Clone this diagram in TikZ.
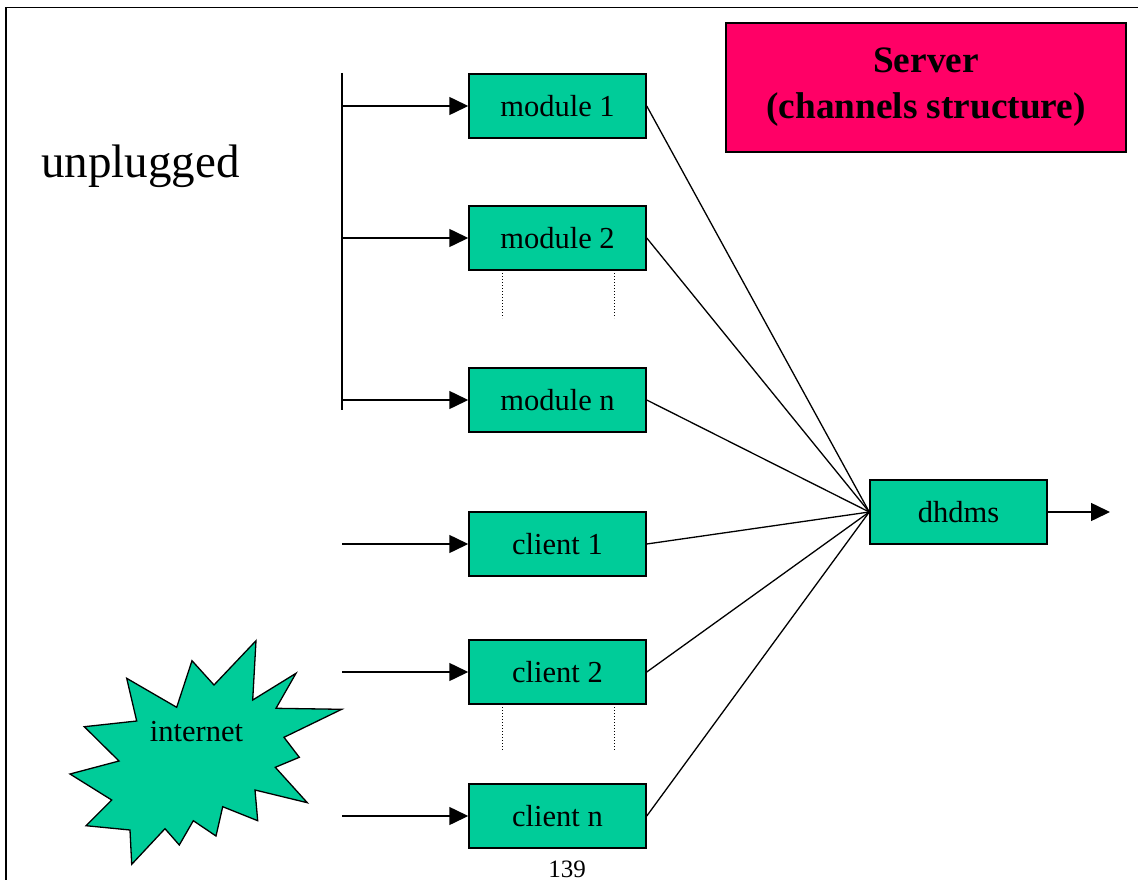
\documentclass[tikz,border=0pt]{standalone}
\usepackage{fontspec}
\setmainfont{Liberation Serif}
\usetikzlibrary{arrows.meta}
\definecolor{boxgreen}{RGB}{0,204,153}
\definecolor{servermag}{RGB}{255,0,102}
\begin{document}
\begin{tikzpicture}[x=1pt,y=-1pt,
  box/.style={draw, line width=1.5pt, fill=boxgreen, minimum width=177pt, minimum height=64pt, inner sep=0pt, font=\fontsize{30.5}{36}\selectfont},
  link/.style={line width=1.3pt},
  feed/.style={line width=1.5pt, -{Triangle[length=19pt,width=18pt]}},
  dots/.style={line width=1pt, dash pattern=on 1pt off 2pt},
]
\useasboundingbox (0,0) rectangle (1138,880);
% frame
\draw[line width=1.6pt] (6,880) -- (6,7.5) -- (1138,7.5);

% server title
\node[draw, line width=1.5pt, fill=servermag, minimum width=400pt, minimum height=129pt, inner sep=0pt, align=center, font=\bfseries\fontsize{37.3}{46}\selectfont] (srv) at (926,87.5) {Server\\(channels structure)};

\node[font=\fontsize{47}{56}\selectfont, anchor=base west, inner sep=0pt] (unp) at (41,177) {unplugged};

% boxes
\node[box] (m1) at (557.5,106) {module 1};
\node[box] (m2) at (557.5,238) {module 2};
\node[box] (mn) at (557.5,400) {module n};
\node[box] (c1) at (557.5,544) {client 1};
\node[box] (c2) at (557.5,672) {client 2};
\node[box] (cn) at (557.5,816) {client n};
\node[box] (d) at (958.5,512) {dhdms};

% bus
\coordinate (bt) at (342,73);
\coordinate (bb) at (342,410);
\draw[link] (bt) -- (bb);
\coordinate (a1) at (342,106);
\coordinate (a2) at (342,238);
\coordinate (an) at (342,400);
\coordinate (b1) at (342,544);
\coordinate (b2) at (342,672);
\coordinate (bn) at (342,816);
\draw[feed] (a1) -- (m1.west);
\draw[feed] (a2) -- (m2.west);
\draw[feed] (an) -- (mn.west);
\draw[feed] (b1) -- (c1.west);
\draw[feed] (b2) -- (c2.west);
\draw[feed] (bn) -- (cn.west);

% dotted continuation marks
\coordinate (p1) at (502,270); \coordinate (p1e) at (502,318);
\coordinate (p2) at (614,270); \coordinate (p2e) at (614,318);
\coordinate (q1) at (502,704); \coordinate (q1e) at (502,751);
\coordinate (q2) at (614,704); \coordinate (q2e) at (614,751);
\draw[dots] (p1) -- (p1e);
\draw[dots] (p2) -- (p2e);
\draw[dots] (q1) -- (q1e);
\draw[dots] (q2) -- (q2e);

% links to dhdms
\foreach \n in {m1,m2,mn,c1,c2,cn} \draw[link] (\n.east) -- (d.west);
\coordinate (out) at (1110,512);
\draw[feed] (d.east) -- (out);

% internet burst
\draw[line width=1.3pt, fill=boxgreen, line join=miter]
 (256,640.7) -- (252.7,700) -- (296,673.3) -- (276,708.3) -- (341.7,709.3) -- (284,737.3)
 -- (299.3,757.3) -- (275.3,767.3) -- (307.3,802.7) -- (255,790) -- (257.7,820.7)
 -- (222.7,806.7) -- (216,836) -- (193.3,820.7) -- (179.3,845) -- (165,828.7)
 -- (131.7,864.3) -- (130,830) -- (86,825.7) -- (111.7,800) -- (70,774) -- (119,761)
 -- (84.3,726.7) -- (136.7,721) -- (126.7,678.3) -- (176.7,707.3) -- (192,660.7)
 -- (214,685) -- cycle;
\node[font=\fontsize{30.5}{36}\selectfont, anchor=base, inner sep=0pt] (inet) at (196.5,741) {internet};

\node[font=\fontsize{25}{30}\selectfont, anchor=base, inner sep=0pt] (pg) at (567,877) {139};
\end{tikzpicture}
\end{document}
